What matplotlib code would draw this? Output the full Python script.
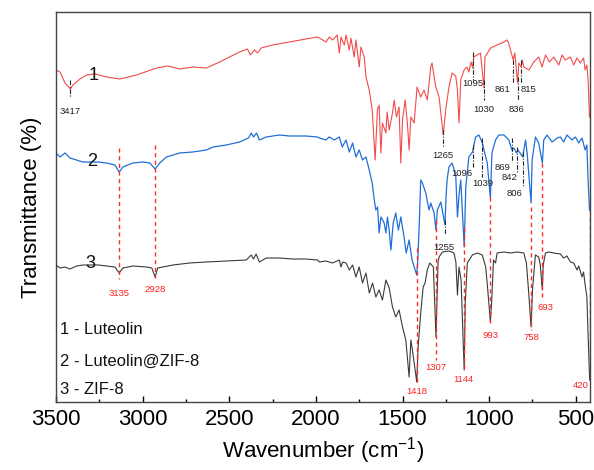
import matplotlib
matplotlib.use("Agg")
import matplotlib.pyplot as plt
from matplotlib.ticker import FixedLocator, MultipleLocator

plt.rcParams['font.family'] = ['Liberation Sans', 'DejaVu Sans']
plt.rcParams['mathtext.fontset'] = 'custom'
plt.rcParams['mathtext.rm'] = 'Liberation Sans'
plt.rcParams['mathtext.it'] = 'Liberation Sans:italic'
plt.rcParams['mathtext.bf'] = 'Liberation Sans:bold'

# ---------------- data (wavenumber cm-1, transmittance offset units) ----------------
luteolin_wn = [3500, 3477, 3448, 3417, 3402, 3362, 3323, 3275, 3208, 3132, 3035, 2920, 2855, 2786,
               2711, 2632, 2556, 2441, 2395, 2379, 2354, 2337, 2316, 2251, 2153, 2057, 1992, 1980,
               1942, 1923, 1904, 1877, 1865, 1855, 1836, 1826, 1807, 1798, 1779, 1769, 1750, 1740,
               1721, 1711, 1692, 1675, 1658, 1645, 1635, 1625, 1616, 1596, 1589, 1577, 1558, 1548,
               1535, 1520, 1510, 1500, 1485, 1472, 1462, 1452, 1433, 1416, 1395, 1376, 1357, 1337,
               1330, 1308, 1289, 1265, 1251, 1232, 1214, 1193, 1183, 1174, 1164, 1145, 1128, 1117,
               1105, 1095, 1089, 1050, 1030, 1024, 992, 955, 915, 898, 888, 861, 852, 836, 829, 815,
               809, 800, 771, 742, 714, 695, 675, 652, 627, 598, 579, 560, 531, 512, 493, 474, 455,
               446, 436, 429, 421]
luteolin_t = [332, 330, 319, 313, 317, 323, 327, 328, 325, 323, 327, 334, 336, 333,
              335, 334, 340, 350, 353, 347, 352, 349, 354, 357, 360, 363, 365, 364,
              360, 365, 362, 367, 349, 365, 357, 367, 352, 364, 345, 362, 335, 355,
              345, 325, 312, 292, 242, 292, 297, 249, 279, 269, 290, 272, 289, 302,
              285, 295, 239, 282, 302, 279, 252, 285, 279, 315, 305, 312, 302, 335,
              339, 315, 305, 267, 292, 315, 329, 326, 312, 279, 322, 332, 335, 330,
              340, 334, 345, 349, 314, 345, 354, 357, 360, 362, 359, 342, 349, 319, 339, 335,
              342, 335, 332, 340, 345, 335, 347, 340, 345, 337, 347, 342, 345, 337, 344, 339, 344,
              332, 337, 322, 285]

complex_wn = [3500, 3477, 3448, 3419, 3381, 3345, 3258, 3208, 3160, 3135, 3114, 3057, 2999, 2959,
              2928, 2901, 2863, 2786, 2711, 2632, 2594, 2517, 2441, 2389, 2373, 2360, 2343, 2326,
              2287, 2210, 2153, 2057, 1992, 1980, 1942, 1923, 1894, 1865, 1848, 1826, 1807, 1788,
              1769, 1750, 1731, 1711, 1692, 1675, 1663, 1654, 1644, 1635, 1625, 1606, 1596, 1587,
              1577, 1567, 1554, 1539, 1524, 1510, 1491, 1479, 1462, 1445, 1418, 1412, 1404, 1395,
              1385, 1366, 1347, 1337, 1318, 1307, 1299, 1279, 1255, 1249, 1243, 1232, 1214, 1193,
              1183, 1174, 1164, 1144, 1135, 1117, 1096, 1078, 1059, 1039, 1030, 1011, 993, 984,
              963, 944, 915, 886, 869, 858, 842, 834, 806, 800, 790, 781, 758, 752, 733, 714, 693,
              685, 666, 637, 608, 589, 570, 551, 522, 502, 483, 464, 446, 436, 429, 421]
complex_t = [249, 245, 249, 244, 242, 240, 240, 239, 237, 230, 235, 239, 240, 239,
             233, 239, 245, 249, 250, 252, 255, 257, 260, 264, 269, 265, 269, 262,
             265, 267, 266, 266, 265, 264, 262, 265, 262, 265, 255, 262, 250, 259,
             245, 252, 242, 245, 232, 219, 202, 192, 195, 169, 185, 179, 169, 185,
             172, 152, 179, 189, 172, 185, 165, 149, 162, 142, 127, 142, 175, 222,
             219, 209, 192, 199, 189, 172, 192, 200, 177, 205, 222, 235, 239, 227,
             185, 207, 222, 155, 215, 245, 250, 265, 267, 259, 252, 239, 204, 249,
             262, 267, 267, 262, 252, 254, 249, 252, 245, 252, 262, 249, 199, 242, 265, 259, 239,
             262, 267, 260, 264, 265, 260, 267, 262, 265, 259, 264, 252, 257, 222, 192]

zif8_wn = [3500, 3477, 3448, 3419, 3381, 3343, 3256, 3208, 3160, 3135, 3114, 3055, 2978, 2947,
           2928, 2913, 2825, 2729, 2632, 2517, 2402, 2373, 2360, 2345, 2326, 2287, 2210, 2134,
           2057, 1990, 1980, 1942, 1904, 1865, 1855, 1846, 1826, 1807, 1788, 1769, 1750, 1731,
           1711, 1692, 1673, 1654, 1635, 1616, 1596, 1577, 1558, 1539, 1520, 1500, 1481, 1462,
           1452, 1443, 1418, 1410, 1395, 1381, 1370, 1357, 1343, 1322, 1307, 1295, 1289, 1270,
           1232, 1203, 1192, 1183, 1174, 1162, 1152, 1144, 1138, 1126, 1097, 1068, 1040, 1020,
           1008, 993, 985, 975, 963, 954, 915, 877, 838, 800, 785, 773, 758, 750, 733, 714, 705,
           693, 688, 675, 656, 627, 589, 570, 551, 531, 512, 493, 483, 464, 455, 446, 436, 430, 420]
zif8_t = [137, 134, 135, 133, 136, 137, 137, 136, 135, 129, 134, 136, 135, 134,
          125, 134, 137, 139, 140, 141, 142, 147, 143, 148, 140, 144, 144, 143,
          143, 142, 140, 141, 139, 142, 135, 140, 139, 132, 137, 125, 135, 119,
          129, 109, 119, 105, 112, 102, 122, 114, 95, 85, 92, 75, 62, 25,
          62, 52, 20, 55, 89, 115, 119, 132, 139, 135, 65, 140, 145, 150,
          151, 149, 140, 107, 135, 122, 70, 32, 100, 139, 147, 149, 147, 135,
          112, 80, 102, 142, 139, 149, 150, 149, 150, 149, 139, 112, 75, 112, 147, 145, 137,
          112, 137, 149, 150, 149, 148, 144, 146, 140, 139, 132, 136, 125, 130, 117, 105, 72, 22]

# peak labels (cm-1)
luteolin_peaks = ['3417', '1095', '1030', '861', '836', '815', '1265']
complex_peaks = ['1096', '1039', '869', '842', '806', '1255']
zif8_peaks = ['3135', '2928', '1418', '1307', '1144', '993', '758', '693', '420']
legend_lines = ['1 - Luteolin', '2 - Luteolin@ZIF-8', '3 - ZIF-8']
curve_numbers = ['1', '2', '3']
xticks = [3500, 3000, 2500, 2000, 1500, 1000, 500]

# ---------------- layout of annotations: (x, line_top, line_bottom, text_x, text_y, ha) ----
lut_ann = [(3417, 322, 305, 3417, 291, 'center'),
           (1095, 350, 322, 1095, 319, 'center'),
           (1030, 322, 302, 1030, 292, 'center'),
           (861, 342, 319, 875, 312, 'right'),
           (836, 325, 302, 842, 293, 'center'),
           (815, 342, 319, 817, 312, 'left'),
           (1265, 272, 255, 1265, 247, 'center')]
cpx_ann = [(1096, 257, 235, 1094, 228, 'right'),
           (1039, 264, 225, 1039, 219, 'center'),
           (869, 264, 240, 874, 234, 'right'),
           (842, 255, 230, 838, 224, 'right'),
           (806, 250, 215, 852, 209, 'center'),
           (1255, 182, 167, 1260, 155, 'center')]
zif_ann = [(3135, 254, 123, 3135, 109, 'center'),
           (2928, 257, 124, 2928, 112, 'center'),
           (1418, 154, 19, 1418, 10, 'center'),
           (1307, 182, 42, 1307, 35, 'center'),
           (1144, 175, 30, 1150, 22, 'center'),
           (993, 205, 79, 993, 67, 'center'),
           (758, 195, 72, 758, 64, 'center'),
           (693, 239, 105, 675, 94, 'center'),
           (420, 200, 22, 426, 16, 'right')]

# ---------------- figure ----------------
fig = plt.figure(figsize=(5.94, 4.70), dpi=100)
ax = fig.add_axes([56/594, 1-402/470, 534/594, 390/470])

ax.plot(luteolin_wn, luteolin_t, color='#f24b4b', lw=0.8)
ax.plot(complex_wn, complex_t, color='#1f6fd6', lw=0.9)
ax.plot(zif8_wn, zif8_t, color='#3a3a3a', lw=0.8)

for (x, t0, t1, tx, ty, ha), lab in zip(lut_ann, luteolin_peaks):
    ax.plot([x, x], [t0, t1], color='#222222', lw=0.8, ls=(0, (4, 1.5, 1, 1.5)))
    ax.text(tx, ty, lab, ha=ha, va='center', fontsize=6.8, color='#222222')
for (x, t0, t1, tx, ty, ha), lab in zip(cpx_ann, complex_peaks):
    ax.plot([x, x], [t0, t1], color='#222222', lw=0.8, ls=(0, (4, 1.5, 1, 1.5)))
    ax.text(tx, ty, lab, ha=ha, va='center', fontsize=6.8, color='#222222')
for (x, t0, t1, tx, ty, ha), lab in zip(zif_ann, zif8_peaks):
    ax.plot([x, x], [t0, t1], color='#ff2a2a', lw=1.0, ls=(0, (3, 2.5)))
    ax.text(tx, ty, lab, ha=ha, va='center', fontsize=6.8, color='#ff2020')

for lab, (x, t) in zip(curve_numbers, [(3281, 327), (3294, 240), (3300, 139)]):
    ax.text(x, t, lab, ha='center', va='center', fontsize=13, color='#111111')

for lab, t in zip(legend_lines, [73, 41, 13]):
    ax.text(3478, t, lab, ha='left', va='center', fontsize=12, color='#111111')

ax.set_xlim(3500, 418)
ax.set_ylim(0, 390)
ax.xaxis.set_major_locator(FixedLocator(xticks))
ax.xaxis.set_minor_locator(MultipleLocator(250))
ax.tick_params(axis='x', which='major', direction='in', length=4, width=1, labelsize=16, pad=5)
ax.tick_params(axis='x', which='minor', direction='in', length=2.5, width=1)
ax.set_yticks([])
for s in ax.spines.values():
    s.set_color('#444444')
    s.set_linewidth(1.0)
ax.set_xlabel('Wavenumber (cm$^{-1}$)', fontsize=16, labelpad=4)
ax.set_ylabel('Transmittance (%)', fontsize=16, labelpad=10)

fig.savefig('out.png', dpi=100)
